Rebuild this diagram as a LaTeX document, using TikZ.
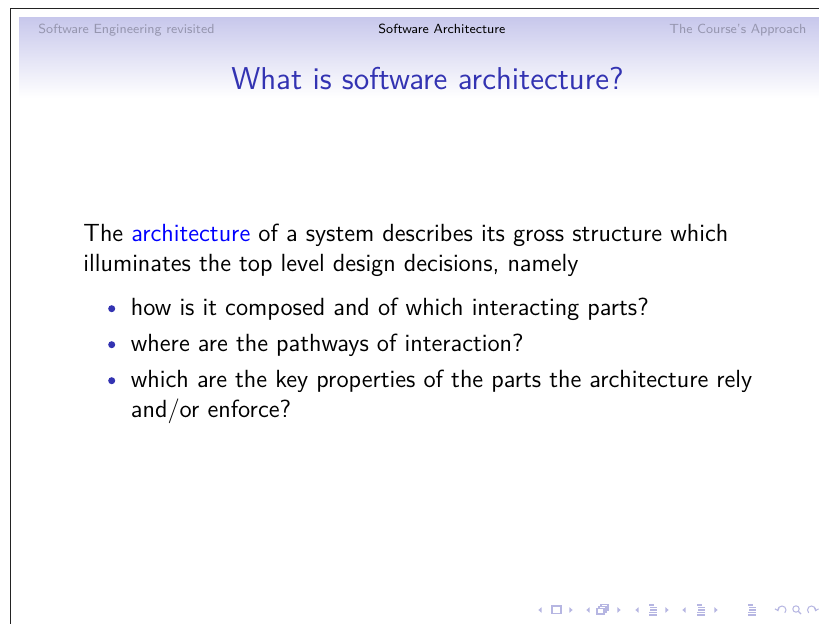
\documentclass[tikz,border=0pt]{standalone}
\usetikzlibrary{positioning,arrows.meta}
\definecolor{structure}{RGB}{51,51,178}
\definecolor{headband}{RGB}{200,200,236}
\definecolor{headgrey}{RGB}{150,150,175}
\definecolor{navgrey}{RGB}{182,182,226}
\definecolor{framegrey}{RGB}{35,35,35}
\tikzset{
    headtext/.style={
        anchor=base west,
        inner sep=0pt,
        font=\fontsize{5.9}{7}\selectfont\sffamily
    },
    titletext/.style={
        anchor=base,
        inner sep=0pt,
        text=structure,
        font=\fontsize{14.1}{18}\selectfont\sffamily
    },
    bodytext/.style={
        anchor=base west,
        inner sep=0pt,
        font=\fontsize{11.08}{13.6}\selectfont\sffamily
    },
    itembullet/.style={
        circle,
        fill=structure,
        inner sep=0pt,
        minimum size=1.1mm
    },
    navline/.style={draw=navgrey, line width=0.45pt}
}

\begin{document}
\begin{tikzpicture}[x=0.15686mm, y=-0.15686mm]
\useasboundingbox (0,0) rectangle (819,624);
\fill[white] (0,0) rectangle (819,624);

% WINDOW EDGE
\draw[framegrey, line width=0.6pt] (10.5,624) -- (10.5,8.5) -- (819,8.5);

% HEADLINE
\shade[top color=headband, bottom color=white] (19,18) rectangle (819,98);

\node[headtext, text=headgrey] (secprev) at (38,33.3) {Software Engineering revisited};
\node[headtext, text=black]    (seccur)  at (378,33.3) {Software Architecture};
\node[headtext, text=headgrey] (secnext) at (669,33.3) {The Course's Approach};

% FRAME TITLE
\node[titletext] (title) at (427.5,89.5) {What is software architecture?};

% BODY
\node[bodytext] (line1) at (83,241.7)
{The \textcolor{blue}{architecture} of a system describes its gross structure which};
\node[bodytext] (line2) at (83,271.7)
{illuminates the top level design decisions, namely};

\node[itembullet] (b1) at (111.7,308.7) {};
\node[bodytext] (item1) at (130.5,315.7)
{how is it composed and of which interacting parts?};

\node[itembullet] (b2) at (111.7,344.7) {};
\node[bodytext] (item2) at (130.5,351.7)
{where are the pathways of interaction?};

\node[itembullet] (b3) at (111.7,380.7) {};
\node[bodytext] (item3) at (130.5,387.7)
{which are the key properties of the parts the architecture rely};
\node[bodytext] (item3b) at (130.5,417.7)
{and/or enforce?};

% NAVIGATION SYMBOLS
\foreach \x in {540,588,637,684}
    \fill[navgrey] (\x+1.6,607.2) -- (\x-1.6,610) -- (\x+1.6,612.8) -- cycle;
\foreach \x in {571,619,667,716}
    \fill[navgrey] (\x-1.6,607.2) -- (\x+1.6,610) -- (\x-1.6,612.8) -- cycle;

% frame
\draw[navline] (552,606) rectangle (561,613.5);

% subsection
\draw[navline] (597,608.5) rectangle (604,614);
\draw[navline] (599,608.5) -- (599,606.5) -- (606,606.5) -- (606,612) -- (604,612);
\draw[navline] (601,606.5) -- (601,604.5) -- (608,604.5) -- (608,610) -- (606,610);

% section and document
\foreach \x in {649,697,748} {
    \draw[navline] (\x,605) -- (\x+5,605);
    \draw[navline] (\x+1,607.5) -- (\x+8,607.5);
    \draw[navline] (\x+1,610) -- (\x+8,610);
    \draw[navline] (\x,612.5) -- (\x+8,612.5);
    \draw[navline] (\x,615) -- (\x+8,615);
}

% back, search, forward
\draw[navline, -{Straight Barb[length=1.2pt, width=2pt]}]
    (782,610) ++(45:4) arc[start angle=45, end angle=-200, radius=4];
\draw[navline] (796,609) circle[radius=3.2];
\draw[navline, line width=0.6pt] (798.3,611.3) -- (801,614);
\draw[navline, -{Straight Barb[length=1.2pt, width=2pt]}]
    (811.5,610) ++(-225:4) arc[start angle=-225, end angle=20, radius=4];

\end{tikzpicture}
\end{document}
